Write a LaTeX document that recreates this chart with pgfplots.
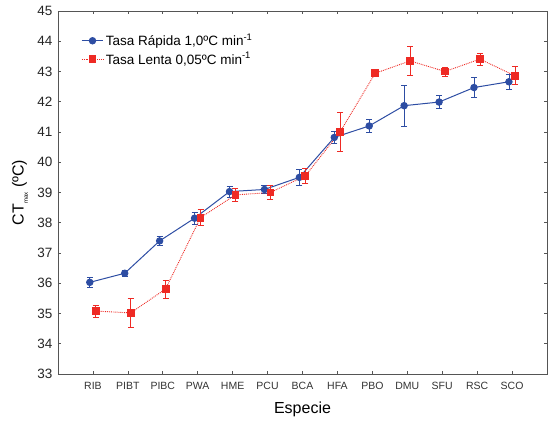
\documentclass[border=0pt]{standalone}
\usepackage{fontspec}
\setmainfont{Liberation Sans}
\usepackage{pgfplots}
\pgfplotsset{compat=1.18}
\usepackage{pgfplotstable}
\usetikzlibrary{calc}
\definecolor{cblue}{HTML}{2D4DA3}
\definecolor{cred}{HTML}{EE2A24}
\definecolor{axgray}{HTML}{555555}

\pgfplotstableread{
y e
36.03 0.15
36.33 0.10
37.40 0.15
38.15 0.19
39.03 0.18
39.10 0.12
39.50 0.28
40.82 0.19
41.20 0.22
41.87 0.67
41.99 0.22
42.47 0.33
42.66 0.24
}\rapida

\pgfplotstableread{
y e
35.08 0.20
35.02 0.48
35.81 0.30
38.17 0.26
38.92 0.22
39.00 0.24
39.55 0.25
41.01 0.64
42.94 0.08
43.35 0.49
43.00 0.15
43.41 0.20
42.86 0.30
}\lenta

\begin{document}
\begin{tikzpicture}
\begin{axis}[
  name=ax,
  width=489pt, height=363pt, scale only axis,
  xmin=-1, xmax=13, ymin=33, ymax=45,
  xtick={0,...,12},
  xticklabels={RIB,PIBT,PIBC,PWA,HME,PCU,BCA,HFA,PBO,DMU,SFU,RSC,SCO},
  ytick={33,...,45},
  tick align=inside, major tick length=3pt,
  axis line style={axgray, line width=0.8pt},
  tick style={axgray, line width=0.6pt},
  /pgf/number format/assume math mode=true,
  x tick label style={font=\fontsize{10.5}{12}\selectfont, text=black!80, yshift=-5pt},
  y tick label style={font=\fontsize{13.5}{15}\selectfont, text=black!85, xshift=-2pt},
  xlabel={Especie},
  xlabel style={font=\fontsize{16}{18}\selectfont, at={(rel axis cs:0.5,0)}, anchor=center, yshift=-35pt},
  ylabel={CT\raisebox{-0.5ex}{\fontsize{6}{7}\selectfont max} (ºC)},
  ylabel style={font=\fontsize{16}{18}\selectfont, at={(rel axis cs:0,0.5)}, anchor=center, yshift=38pt},
  legend style={draw=none, fill=none, at={(rel axis cs:0.045,0.945)}, anchor=north west,
    font=\fontsize{13.5}{15}\selectfont, row sep=1pt, inner sep=1pt},
  legend cell align=left,
  legend image code/.code={\draw[mark repeat=2,mark phase=2] plot coordinates {(0cm,0cm) (0.38cm,0cm) (0.76cm,0cm)};},
]
\addplot+[cblue, solid, line width=1pt, mark=*, mark size=3.2pt, mark options={solid, fill=cblue, draw=cblue},
  error bars/.cd, y dir=both, y explicit,
  error bar style={solid, cblue, line width=0.7pt},
  error mark options={rotate=90, mark size=3pt, cblue, line width=0.7pt}]
  table[x expr=\coordindex-0.09, y=y, y error=e] {\rapida};
\addlegendentry{Tasa Rápida 1,0ºC min\textsuperscript{-1}}
\addplot+[cred, densely dotted, line width=0.9pt, mark=square*, mark size=3.4pt, mark options={solid, fill=cred, draw=cred},
  error bars/.cd, y dir=both, y explicit,
  error bar style={solid, cred, line width=0.7pt},
  error mark options={rotate=90, mark size=3pt, cred, line width=0.7pt}]
  table[x expr=\coordindex+0.08, y=y, y error=e] {\lenta};
\addlegendentry{Tasa Lenta 0,05ºC min\textsuperscript{-1}}
\end{axis}
\pgfresetboundingbox
\path[use as bounding box] ($(ax.south west)+(-58pt,-48pt)$) rectangle ($(ax.north east)+(4pt,11pt)$);
\end{tikzpicture}
\end{document}
